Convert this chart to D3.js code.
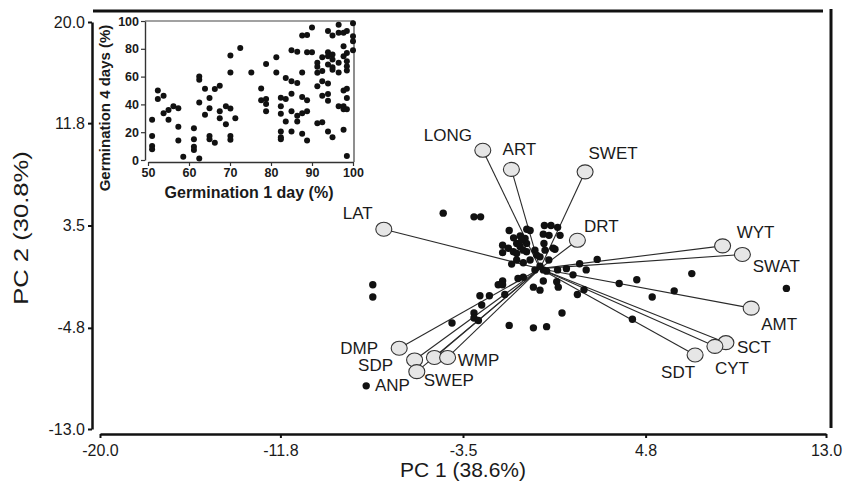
<!DOCTYPE html>
<html>
<head>
<meta charset="utf-8">
<script src="https://cdn.jsdelivr.net/npm/d3@7"></script>
<style>
  body { margin: 0; background: #fff; }
  text { font-family: "Liberation Sans", Arial, sans-serif; fill: #1a1a1a; }
  .axis path, .axis line { stroke: #111; }
  .inset .axis path, .inset .axis line { stroke: #333; }
</style>
</head>
<body>
<script>
// main biplot ticks
const xTicks = [-20, -11.8, -3.5, 4.8, 13];
const yTicks = [20, 11.8, 3.5, -4.8, -13];

// trait loadings (vector ends)
const traits = ['LONG', 'ART', 'SWET', 'DRT', 'LAT', 'DMP', 'SDP', 'SWEP', 'ANP', 'WMP',
  'WYT', 'SWAT', 'AMT', 'SCT', 'CYT', 'SDT'];
const loadPC1 = [-2.6, -1.3, 2.05, 1.7, -7.1, -6.4, -5.7, -5.6, -4.8, -4.2,
  8.3, 9.2, 9.6, 8.45, 7.95, 7.05];
const loadPC2 = [9.6, 8.05, 7.85, 2.3, 3.2, -6.45, -7.4, -8.35, -7.2, -7.2,
  1.85, 1.15, -3.2, -6.0, -6.3, -7.0];

// genotype scores
const pc1Scores = [-4.4, -3.0, -2.7, -7.6, -7.6, -7.9, 11.2, 6.9, 6.1, 5.1, 4.4, 3.6, 4.2,
  2.6, 1.8, 2.1, 2.0, 1.7, 1.0, 1.5, 1.2, 0.8, 0.3, 0.15, -0.23, 0.0, 0.4, -0.45, -1.06,
  -1.29, -0.76, -1.0, -0.76, -1.7, -1.9, -1.7, 0.15, 0.76, 0.83, -0.3, 0.0, -1.6, -2.3,
  -2.73, -2.65, -3.0, -3.0, -2.8, -4.0, -1.4, -0.3, 0.3, -1.4, -0.6, -0.45, 0.2, 0.5, 0.8,
  -1.2, -0.9, -0.68, 0.15, 0.41, 0.91, -1.7, -1.44, -1.06, -0.91, -0.61, -1.7, -1.21,
  -0.61, -0.23, 0.23, 0.68, 0.0, -0.15, 0.18, 0.6, -0.83, -0.76, -1.06];
const pc2Scores = [4.5, 4.2, 4.2, -1.3, -2.3, -9.5, -1.6, -0.4, -1.8, -2.3, -0.9, -1.2, -4.1,
  0.75, 0.4, -0.1, -1.7, -2.1, -3.6, -0.5, 0.0, -0.1, -0.2, -0.1, -0.1, 0.2, 0.7, 0.7, 0.7,
  0.37, 0.48, -0.8, -0.7, -1.0, -1.3, -1.3, -1.0, -1.06, -1.5, -1.5, -1.74, -2.1, -2.2,
  -2.2, -2.95, -3.6, -4.0, -4.2, -4.4, -4.6, -4.8, -4.7, 3.1, 3.2, 3.1, 3.5, 3.5, 3.35,
  2.5, 2.65, 2.45, 2.8, 2.7, 2.7, 1.9, 1.65, 2.05, 1.8, 2.05, 1.3, 1.37,
  1.37, 1.5, 1.5, 1.57, 0.96, 1.1, 2.05, 1.65, 2.3, 1.5, 1.24];

// inset: germination after 1 and 4 days (%)
const germ1Day = [
  51, 51, 51, 51, 52.4, 52.4, 53.8, 53.8, 55, 55, 56.2, 57.4, 57.4, 57.4, 58.6,
  61.2, 61.2, 61.2, 61.2, 62.5, 62.5, 62.5, 62.5, 63.9, 63.9, 65, 65, 65, 65,
  66.3, 66.3, 67.5, 67.5, 67.5, 69, 69, 70.1, 70.1, 70.1, 70.1, 70.1, 71.3, 72.5,
  75.2, 77.6, 77.6, 78.8, 78.8, 78.8, 78.8, 81.3, 81.3,
  82.4, 82.4, 82.4, 82.4, 82.4, 82.4, 83.6, 83.6, 83.6, 85, 85, 85, 85, 85,
  86.4, 86.4, 86.4, 86.4, 87.6, 87.6, 87.6, 87.6, 87.6, 88.8, 88.8, 88.8, 88.8, 88.8,
  90, 90, 91.3, 91.3, 91.3, 91.3, 91.3, 92.5, 92.5, 92.5, 92.5, 92.5,
  93.9, 93.9, 93.9, 93.9, 93.9, 93.9, 93.9, 93.9, 95, 95, 95, 95, 95, 95,
  96.5, 96.5, 96.5, 96.5, 96.5, 97.7, 97.7, 97.7, 97.7, 97.7, 97.7, 97.7,
  98.5, 98.5, 98.5, 98.5, 98.5, 98.5, 98.5, 98.5, 98.5, 100, 100, 100, 100];
const germ4Day = [
  28.9, 17.3, 10.1, 7.7, 50, 43.9, 46.3, 33.7, 36, 29, 38.6, 37.3, 24, 14, 2.4,
  22.9, 15, 9.6, 7.2, 60, 57.8, 41.4, 1, 51.3, 32.5, 44.6, 37.3, 17.3, 15,
  51, 12.5, 53.5, 35, 30, 38.6, 25.8, 75.2, 63, 37, 17.3, 14.5, 30, 80.5,
  63, 51.5, 42.9, 69, 43.9, 40.2, 35, 74, 63,
  44.8, 38.6, 33.3, 20.5, 16.4, 15, 43.9, 27.7, 59, 79, 56.6, 47.7, 35, 20.5,
  77.8, 55.4, 31.8, 27.7, 89.6, 63, 45.3, 33.7, 18.8, 90, 77.6, 42.9, 35, 14,
  95.4, 77.6, 69.9, 67, 62.7, 53, 26.5, 74, 64, 56.6, 46.3, 27.2,
  92.8, 77.6, 74.7, 68.7, 55, 47.5, 42.7, 20.5, 89.6, 75.9, 72.3, 66.7, 65, 16.4,
  97.3, 91.6, 69.9, 63, 38.6, 91.6, 81.9, 74.7, 50, 38.6, 36.6, 21.7,
  92.8, 77, 71, 67.5, 64.3, 51.3, 44.6, 36.6, 2.9, 98.3, 89, 85.5, 79];
const insetXTicks = [50, 60, 70, 80, 90, 100];
const insetYTicks = [0, 20, 40, 60, 80, 100];

// label placement relative to vector end (px)
const labelOffset = {
  LONG: [-35, -15], ART: [8, -20], SWET: [28, -19], DRT: [24, -14], LAT: [-26, -16],
  DMP: [-40, 0], SDP: [-39, 5], SWEP: [32, 8], ANP: [-42, 28], WMP: [31, 3],
  WYT: [33, -14], SWAT: [34, 12], AMT: [28, 16], SCT: [28, 4], CYT: [17, 22], SDT: [-17, 17]
};

const width = 843;
const height = 492;

const svg = d3.select('body')
  .append('svg')
  .attr('width', width)
  .attr('height', height);

const x = d3.scaleLinear().domain([-20, 13]).range([100, 826]);
const y = d3.scaleLinear().domain([-13, 20]).range([429, 22]);
const fmt = d => d.toFixed(1);

// frame
svg.append('line')
  .attr('x1', 93).attr('x2', 823).attr('y1', 11).attr('y2', 11)
  .attr('stroke', '#111').attr('stroke-width', 3);
svg.append('line')
  .attr('x1', 831).attr('x2', 831).attr('y1', 9).attr('y2', 428)
  .attr('stroke', '#111').attr('stroke-width', 3);

const xAxis = svg.append('g')
  .attr('class', 'axis')
  .attr('transform', 'translate(0, 434)')
  .call(d3.axisBottom(x).tickValues(xTicks).tickFormat(fmt).tickSize(4).tickSizeOuter(0).tickPadding(7));

const yAxis = svg.append('g')
  .attr('class', 'axis')
  .attr('transform', 'translate(92, 0)')
  .call(d3.axisLeft(y).tickValues(yTicks).tickFormat(fmt).tickSize(4).tickSizeOuter(0).tickPadding(3));

[xAxis, yAxis].forEach(a => {
  a.select('.domain').attr('stroke-width', 2.5);
  a.selectAll('.tick line').attr('stroke-width', 2);
  a.selectAll('.tick text')
    .style('font-size', '16px')
    .style('font-family', '"Liberation Sans", Arial, sans-serif')
    .attr('fill', '#1a1a1a');
});

svg.append('text')
  .attr('x', 463)
  .attr('y', 477)
  .style('text-anchor', 'middle')
  .style('font-size', '21px')
  .text('PC 1 (38.6%)');

svg.append('text')
  .attr('transform', 'translate(28, 228) rotate(-90) scale(1.22, 1)')
  .style('text-anchor', 'middle')
  .style('font-size', '21px')
  .text('PC 2 (30.8%)');

// vectors
const loadings = traits.map((t, i) => ({ name: t, pc1: loadPC1[i], pc2: loadPC2[i] }));

svg.selectAll('.vec').data(loadings)
  .enter()
  .append('line')
  .attr('class', 'vec')
  .attr('x1', x(0))
  .attr('y1', y(0))
  .attr('x2', d => x(d.pc1))
  .attr('y2', d => y(d.pc2))
  .attr('stroke', '#2a2a2a')
  .attr('stroke-width', 1.1);

// scores
svg.selectAll('.score').data(pc1Scores)
  .enter()
  .append('circle')
  .attr('class', 'score')
  .attr('cx', d => x(d))
  .attr('cy', (d, i) => y(pc2Scores[i]))
  .attr('r', 3.7)
  .attr('fill', '#111');

svg.selectAll('.end').data(loadings)
  .enter()
  .append('ellipse')
  .attr('class', 'end')
  .attr('cx', d => x(d.pc1))
  .attr('cy', d => y(d.pc2))
  .attr('rx', 8)
  .attr('ry', 7)
  .attr('fill', '#e6e6e6')
  .attr('stroke', '#333')
  .attr('stroke-width', 1.1);

svg.selectAll('.trait').data(loadings)
  .enter()
  .append('text')
  .attr('class', 'trait')
  .attr('x', d => x(d.pc1) + labelOffset[d.name][0])
  .attr('y', d => y(d.pc2) + labelOffset[d.name][1])
  .attr('dy', '0.35em')
  .style('text-anchor', 'middle')
  .style('font-size', '17px')
  .text(d => d.name);

// inset scatter
const inset = svg.append('g').attr('class', 'inset');
const ix = d3.scaleLinear().domain([50, 100]).range([148, 353]);
const iy = d3.scaleLinear().domain([0, 100]).range([160, 21]);

inset.append('rect')
  .attr('x', 145).attr('y', 21).attr('width', 209).attr('height', 141)
  .attr('fill', '#fff');
inset.append('line')
  .attr('x1', 145).attr('x2', 354).attr('y1', 21).attr('y2', 21)
  .attr('stroke', '#444').attr('stroke-width', 1.2);
inset.append('line')
  .attr('x1', 354).attr('x2', 354).attr('y1', 21).attr('y2', 162)
  .attr('stroke', '#444').attr('stroke-width', 1.2);

const ixAxis = inset.append('g')
  .attr('class', 'axis')
  .attr('transform', 'translate(0, 162)')
  .call(d3.axisBottom(ix).tickValues(insetXTicks).tickSize(4).tickSizeOuter(0).tickPadding(2));
const iyAxis = inset.append('g')
  .attr('class', 'axis')
  .attr('transform', 'translate(145, 0)')
  .call(d3.axisLeft(iy).tickValues(insetYTicks).tickSize(4).tickSizeOuter(0).tickPadding(2));

[ixAxis, iyAxis].forEach(a => {
  a.select('.domain').attr('stroke-width', 1.4);
  a.selectAll('.tick line').attr('stroke-width', 1.2);
  a.selectAll('.tick text')
    .style('font-size', '12.5px')
    .style('font-weight', 'bold')
    .style('font-family', '"Liberation Sans", Arial, sans-serif')
    .attr('fill', '#1a1a1a');
});

inset.selectAll('.germ').data(germ1Day)
  .enter()
  .append('circle')
  .attr('class', 'germ')
  .attr('cx', d => ix(d))
  .attr('cy', (d, i) => iy(germ4Day[i]))
  .attr('r', 3)
  .attr('fill', '#111');

inset.append('text')
  .attr('x', 249)
  .attr('y', 198)
  .style('text-anchor', 'middle')
  .style('font-size', '16px')
  .style('font-weight', 'bold')
  .text('Germination 1 day (%)');

inset.append('text')
  .attr('transform', 'rotate(-90)')
  .attr('x', -108)
  .attr('y', 110)
  .style('text-anchor', 'middle')
  .style('font-size', '15px')
  .style('font-weight', 'bold')
  .text('Germination 4 days (%)');
</script>
</body>
</html>
